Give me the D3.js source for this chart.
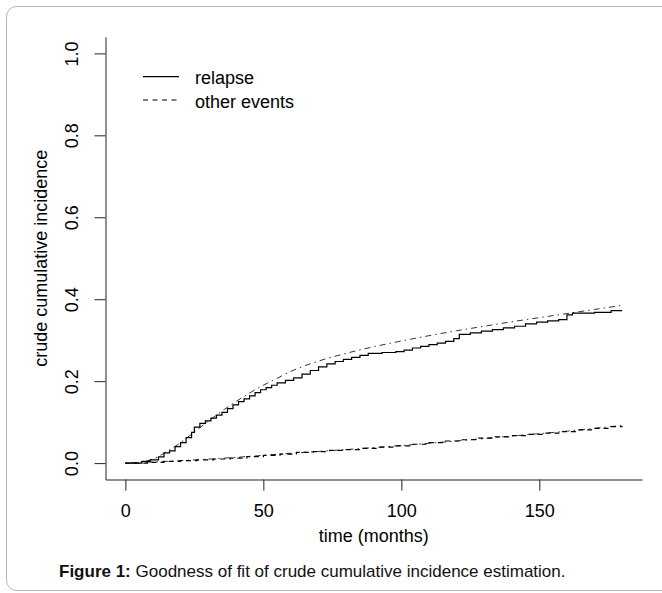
<!DOCTYPE html>
<html>
<head>
<meta charset="utf-8">
<script src="https://cdn.jsdelivr.net/npm/d3@7"></script>
<style>
  html, body { margin: 0; padding: 0; background: #fff; }
  svg { display: block; font-family: "Liberation Sans", Arial, Helvetica, sans-serif; }
</style>
</head>
<body>
<svg id="chart" width="662" height="593"></svg>
<script>
// ---------------- data ----------------
const xTicks = [0, 50, 100, 150];
const yTicks = [0.0, 0.2, 0.4, 0.6, 0.8, 1.0];
const yTickLabels = ["0.0", "0.2", "0.4", "0.6", "0.8", "1.0"];

// relapse: crude cumulative incidence (step function, solid)
const relapseTime = [0, 6, 9, 12, 14, 16, 18, 20, 22, 24, 25, 27, 29, 31, 33, 35, 37, 39, 41, 43, 45, 47, 49, 51, 53, 55, 58, 61, 64, 67, 70, 73, 76, 79, 82, 85, 88, 93, 98, 101, 104, 107, 110, 113, 116, 119, 121, 125, 129, 133, 137, 141, 145, 149, 153, 157, 160, 162, 170, 176, 180];
const relapseValue = [0, 0.004, 0.008, 0.015, 0.025, 0.03, 0.04, 0.05, 0.062, 0.075, 0.088, 0.097, 0.103, 0.11, 0.117, 0.124, 0.133, 0.142, 0.15, 0.157, 0.164, 0.172, 0.179, 0.184, 0.19, 0.196, 0.202, 0.208, 0.217, 0.226, 0.235, 0.242, 0.248, 0.253, 0.258, 0.263, 0.268, 0.27, 0.272, 0.276, 0.281, 0.285, 0.289, 0.293, 0.297, 0.304, 0.314, 0.318, 0.322, 0.326, 0.33, 0.334, 0.34, 0.344, 0.347, 0.35, 0.362, 0.366, 0.368, 0.372, 0.372];

// relapse: fitted curve (dot-dash)
const relapseFitTime = [0, 5, 10, 15, 20, 25, 30, 35, 40, 45, 50, 55, 60, 70, 80, 90, 100, 110, 120, 130, 140, 150, 160, 170, 180];
const relapseFitValue = [0, 0.002, 0.01, 0.028, 0.05, 0.076, 0.102, 0.127, 0.15, 0.171, 0.19, 0.207, 0.224, 0.249, 0.268, 0.284, 0.298, 0.311, 0.323, 0.334, 0.345, 0.355, 0.365, 0.375, 0.385];

// other events: crude cumulative incidence (step function, dashed)
const otherTime = [0, 8, 14, 20, 26, 32, 38, 44, 50, 56, 62, 68, 74, 80, 86, 92, 98, 104, 110, 116, 122, 128, 134, 140, 146, 152, 158, 164, 170, 176, 180];
const otherValue = [0, 0.002, 0.004, 0.006, 0.008, 0.01, 0.012, 0.016, 0.019, 0.022, 0.026, 0.028, 0.031, 0.033, 0.036, 0.039, 0.042, 0.046, 0.05, 0.054, 0.057, 0.061, 0.064, 0.067, 0.07, 0.073, 0.077, 0.081, 0.085, 0.089, 0.09];

// other events: fitted curve (dot-dash)
const otherFitTime = [0, 20, 40, 60, 80, 100, 120, 140, 160, 180];
const otherFitValue = [0, 0.006, 0.014, 0.024, 0.033, 0.043, 0.054, 0.066, 0.078, 0.092];

const legendLabels = ["relapse", "other events"];
const xTitle = "time (months)";
const yTitle = "crude cumulative incidence";

// ---------------- drawing ----------------
const svg = d3.select("#chart");
const FS = 18;

// outer rounded frame
svg.append("rect")
  .attr("x", 6.5).attr("y", 6.5)
  .attr("width", 720).attr("height", 584)
  .attr("rx", 10).attr("ry", 10)
  .attr("fill", "none").attr("stroke", "#b5b5b5").attr("stroke-width", 1);

const pLeft = 105.5, pRight = 642, pTop = 37, pBottom = 479.5;
const x = d3.scaleLinear().domain([-7.2, 187.2]).range([pLeft, pRight]);
const y = d3.scaleLinear().domain([-0.04, 1.04]).range([pBottom, pTop]);

// x axis
const gx = svg.append("g").attr("transform", `translate(0,${pBottom})`)
  .call(d3.axisBottom(x).tickValues(xTicks).tickSize(11).tickSizeOuter(0).tickPadding(14).tickFormat(d3.format("d")));
gx.select(".domain").attr("stroke", "#222");
gx.selectAll(".tick line").attr("stroke", "#222");
gx.selectAll(".tick text").attr("font-size", FS).attr("fill", "#000")
  .attr("font-family", "Liberation Sans, Arial, sans-serif");

// y axis
const gy = svg.append("g").attr("transform", `translate(${pLeft},0)`)
  .call(d3.axisLeft(y).tickValues(yTicks).tickSize(11).tickSizeOuter(0)
    .tickFormat((d, i) => yTickLabels[i]));
gy.select(".domain").attr("stroke", "#222");
gy.selectAll(".tick line").attr("stroke", "#222");
gy.selectAll(".tick text")
  .attr("font-size", FS).attr("fill", "#000")
  .attr("font-family", "Liberation Sans, Arial, sans-serif")
  .attr("text-anchor", "middle")
  .attr("x", 0).attr("y", -28).attr("dy", null)
  .attr("transform", "rotate(-90)");

// axis titles
svg.append("text")
  .attr("x", (pLeft + pRight) / 2).attr("y", 542)
  .attr("text-anchor", "middle").attr("font-size", FS).attr("fill", "#000")
  .text(xTitle);
svg.append("text")
  .attr("transform", `translate(46.5,${(pTop + pBottom) / 2}) rotate(-90)`)
  .attr("text-anchor", "middle").attr("font-size", FS).attr("fill", "#000")
  .text(yTitle);

// series
const stepLine = d3.line().curve(d3.curveStepAfter).x(d => x(d[0])).y(d => y(d[1]));
const smoothLine = d3.line().curve(d3.curveMonotoneX).x(d => x(d[0])).y(d => y(d[1]));
const zip = (a, b) => a.map((t, i) => [t, b[i]]);

const plot = svg.append("g").attr("fill", "none").attr("stroke", "#000").attr("stroke-width", 1);

plot.append("path").attr("d", smoothLine(zip(relapseFitTime, relapseFitValue)))
  .attr("stroke-dasharray", "1.5 4 6 4").attr("stroke", "#333");
plot.append("path").attr("d", smoothLine(zip(otherFitTime, otherFitValue)))
  .attr("stroke-dasharray", "1.5 4 6 4").attr("stroke", "#333");
plot.append("path").attr("d", stepLine(zip(relapseTime, relapseValue)))
  .attr("stroke-width", 1.2);
plot.append("path").attr("d", stepLine(zip(otherTime, otherValue)))
  .attr("stroke-dasharray", "5 4").attr("stroke-width", 1.2);

// legend
const legend = svg.append("g");
const legY = [76.7, 100];
const legDash = [null, "5 4.5"];
legendLabels.forEach((lab, i) => {
  legend.append("line")
    .attr("x1", 143).attr("x2", 179).attr("y1", legY[i]).attr("y2", legY[i])
    .attr("stroke", "#000").attr("stroke-width", 1.2)
    .attr("stroke-dasharray", legDash[i]);
  legend.append("text")
    .attr("x", 195).attr("y", legY[i] + 7.5)
    .attr("font-size", FS).attr("fill", "#000").text(lab);
});

// caption
const cap = svg.append("text").attr("x", 59).attr("y", 577).attr("font-size", 17).attr("fill", "#111");
cap.append("tspan").attr("font-weight", "bold").text("Figure 1:");
cap.append("tspan").text(" Goodness of fit of crude cumulative incidence estimation.");
</script>
</body>
</html>
